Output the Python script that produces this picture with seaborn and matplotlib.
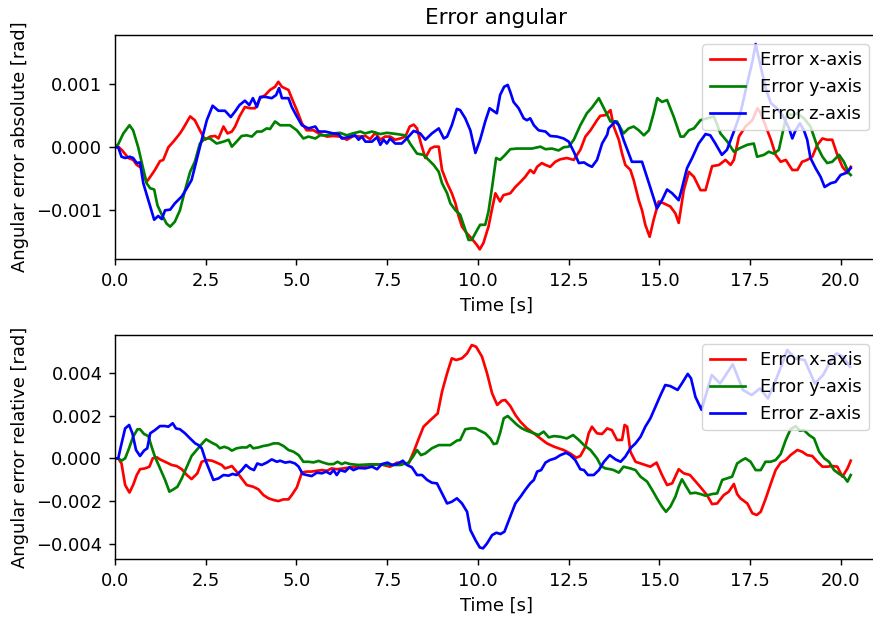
import numpy as np
import pandas as pd
import matplotlib
matplotlib.use("Agg")
import matplotlib.pyplot as plt
import seaborn as sns

# ---------------------------------------------------------------------------
# Angular error data, values in mrad (converted to rad when plotted)
# ---------------------------------------------------------------------------
labels = ["Error x-axis", "Error y-axis", "Error z-axis"]
colors = ["red", "green", "blue"]

# absolute error
t_abs_x = [0.00, 0.09, 0.20, 0.37, 0.50, 0.60, 0.74, 0.87, 0.97, 1.10, 1.24, 1.33, 1.47, 1.61, 1.79,
           1.88, 2.07, 2.20, 2.34, 2.48, 2.62, 2.76, 2.85, 2.99, 3.10, 3.22, 3.31, 3.43, 3.58, 3.72,
           3.86, 4.00, 4.14, 4.27, 4.41, 4.50, 4.60, 4.78, 4.87, 5.01, 5.15, 5.28, 5.47, 5.61, 5.84,
           6.02, 6.20, 6.39, 6.57, 6.76, 6.90, 7.03, 7.17, 7.31, 7.44, 7.58, 7.72, 7.86, 8.00, 8.12,
           8.23, 8.32, 8.43, 8.55, 8.69, 8.80, 8.92, 9.01, 9.15, 9.28, 9.38, 9.47, 9.56, 9.70, 9.83,
           9.97, 10.05, 10.15, 10.29, 10.38, 10.48, 10.61, 10.70, 10.89, 11.03, 11.17, 11.30, 11.44,
           11.54, 11.63, 11.76, 11.86, 11.99, 12.13, 12.27, 12.45, 12.64, 12.82, 12.96, 13.10, 13.28,
           13.37, 13.51, 13.65, 13.74, 13.88, 13.97, 14.06, 14.20, 14.29, 14.43, 14.52, 14.61, 14.73,
           14.84, 14.98, 15.12, 15.30, 15.44, 15.53, 15.67, 15.81, 15.95, 16.13, 16.27, 16.36, 16.45,
           16.64, 16.82, 16.96, 17.05, 17.19, 17.37, 17.56, 17.70, 17.79, 17.93, 18.07, 18.20, 18.34,
           18.48, 18.66, 18.80, 18.93, 19.07, 19.21, 19.35, 19.49, 19.62, 19.76, 19.90, 20.04, 20.18,
           20.27]
abs_x = [0.00, 0.01, -0.05, -0.17, -0.20, -0.28, -0.33, -0.55, -0.47, -0.36, -0.22, -0.20, 0.00, 0.09,
         0.22, 0.30, 0.49, 0.43, 0.27, 0.12, 0.17, 0.18, 0.14, 0.33, 0.22, 0.25, 0.33, 0.49, 0.64, 0.62,
         0.62, 0.78, 0.83, 0.91, 0.96, 1.04, 0.96, 0.91, 0.78, 0.59, 0.38, 0.27, 0.27, 0.22, 0.17, 0.18,
         0.17, 0.12, 0.18, 0.17, 0.18, 0.13, 0.23, 0.12, 0.17, 0.17, 0.12, 0.14, 0.17, 0.33, 0.36, 0.30,
         0.06, -0.17, -0.02, 0.01, 0.01, -0.36, -0.57, -0.73, -0.89, -1.10, -1.26, -1.37, -1.45, -1.55,
         -1.62, -1.52, -1.26, -1.00, -0.73, -0.86, -0.76, -0.73, -0.63, -0.55, -0.47, -0.36, -0.41, -0.31,
         -0.25, -0.28, -0.31, -0.23, -0.19, -0.17, -0.20, -0.04, 0.17, 0.27, 0.43, 0.50, 0.51, 0.59, 0.33,
         0.12, -0.10, -0.28, -0.36, -0.52, -0.84, -1.00, -1.23, -1.42, -1.15, -0.86, -0.89, -0.94, -1.05,
         -1.20, -0.68, -0.39, -0.47, -0.68, -0.68, -0.49, -0.30, -0.28, -0.20, -0.28, -0.20, 0.17, 0.33,
         0.43, 0.62, 0.54, 0.33, 0.12, -0.12, -0.23, -0.20, -0.36, -0.36, -0.23, -0.20, -0.15, 0.04, 0.14,
         0.12, 0.12, -0.12, -0.31, -0.41, -0.31]

t_abs_y = [0.00, 0.09, 0.23, 0.40, 0.50, 0.64, 0.74, 0.87, 0.97, 1.08, 1.17, 1.29, 1.42, 1.52, 1.65,
           1.79, 1.93, 2.07, 2.20, 2.34, 2.48, 2.62, 2.80, 2.99, 3.13, 3.22, 3.35, 3.49, 3.63, 3.77,
           3.91, 4.04, 4.18, 4.27, 4.41, 4.55, 4.69, 4.82, 5.01, 5.19, 5.33, 5.52, 5.65, 5.84, 6.02,
           6.20, 6.39, 6.55, 6.76, 6.89, 7.08, 7.31, 7.49, 7.77, 8.00, 8.13, 8.32, 8.50, 8.64, 8.78,
           8.92, 9.01, 9.15, 9.24, 9.38, 9.51, 9.65, 9.74, 9.83, 9.95, 10.06, 10.20, 10.29, 10.39,
           10.50, 10.61, 10.75, 10.89, 11.07, 11.26, 11.49, 11.72, 11.86, 12.04, 12.22, 12.36, 12.50,
           12.64, 12.82, 13.00, 13.14, 13.33, 13.47, 13.65, 13.83, 14.01, 14.15, 14.29, 14.43, 14.57,
           14.71, 14.84, 14.94, 15.07, 15.21, 15.39, 15.58, 15.67, 15.81, 15.95, 16.13, 16.32, 16.50,
           16.68, 16.87, 17.05, 17.19, 17.42, 17.60, 17.69, 17.88, 18.01, 18.15, 18.29, 18.43, 18.52,
           18.66, 18.79, 18.98, 19.16, 19.35, 19.49, 19.62, 19.76, 19.95, 20.08, 20.22, 20.27]
abs_y = [0.00, 0.05, 0.22, 0.35, 0.27, 0.00, -0.25, -0.57, -0.65, -0.67, -0.92, -1.07, -1.21, -1.26,
         -1.18, -1.00, -0.68, -0.39, -0.23, 0.06, 0.14, 0.14, 0.06, 0.09, 0.12, 0.01, 0.09, 0.18, 0.19,
         0.17, 0.25, 0.25, 0.30, 0.29, 0.41, 0.35, 0.35, 0.35, 0.27, 0.14, 0.17, 0.14, 0.19, 0.19, 0.22,
         0.23, 0.19, 0.22, 0.25, 0.22, 0.25, 0.21, 0.23, 0.21, 0.19, 0.06, -0.10, -0.12, -0.20, -0.28,
         -0.39, -0.57, -0.73, -0.89, -1.00, -1.07, -1.31, -1.47, -1.47, -1.34, -1.23, -1.23, -1.02, -0.63,
         -0.17, -0.20, -0.12, -0.03, -0.02, -0.02, -0.02, 0.01, -0.03, -0.02, -0.05, 0.00, 0.01, 0.12,
         0.35, 0.54, 0.63, 0.78, 0.62, 0.41, 0.41, 0.22, 0.30, 0.33, 0.27, 0.19, 0.27, 0.54, 0.78, 0.72,
         0.75, 0.49, 0.17, 0.17, 0.27, 0.30, 0.43, 0.46, 0.49, 0.22, 0.09, -0.07, -0.02, 0.04, 0.06, -0.15,
         -0.12, -0.07, -0.10, -0.04, 0.33, 0.54, 0.51, 0.54, 0.46, 0.33, 0.01, -0.15, -0.25, -0.23, -0.12,
         -0.23, -0.41, -0.44]

t_abs_z = [0.00, 0.09, 0.18, 0.28, 0.41, 0.50, 0.60, 0.69, 0.78, 0.92, 1.08, 1.19, 1.29, 1.38, 1.52,
           1.65, 1.84, 1.98, 2.11, 2.25, 2.39, 2.53, 2.69, 2.85, 3.03, 3.19, 3.31, 3.43, 3.58, 3.70,
           3.80, 3.91, 4.00, 4.14, 4.32, 4.44, 4.52, 4.60, 4.78, 4.87, 5.01, 5.15, 5.33, 5.52, 5.61,
           5.79, 6.02, 6.16, 6.25, 6.43, 6.62, 6.71, 6.80, 6.90, 7.08, 7.22, 7.31, 7.40, 7.49, 7.58,
           7.72, 7.90, 8.04, 8.23, 8.41, 8.55, 8.73, 8.92, 9.06, 9.15, 9.28, 9.42, 9.51, 9.65, 9.79,
           9.93, 10.06, 10.20, 10.32, 10.52, 10.61, 10.72, 10.82, 10.89, 10.98, 11.12, 11.26, 11.35,
           11.44, 11.54, 11.67, 11.86, 11.99, 12.18, 12.36, 12.50, 12.64, 12.78, 12.92, 13.03, 13.14,
           13.28, 13.42, 13.56, 13.60, 13.78, 13.88, 14.01, 14.24, 14.38, 14.52, 14.71, 14.93, 15.07,
           15.21, 15.35, 15.53, 15.62, 15.76, 15.90, 16.08, 16.27, 16.40, 16.54, 16.72, 16.86, 17.05,
           17.23, 17.42, 17.56, 17.65, 17.79, 17.93, 18.07, 18.20, 18.39, 18.57, 18.66, 18.75, 18.87,
           18.98, 19.07, 19.16, 19.30, 19.44, 19.55, 19.72, 19.85, 19.99, 20.13, 20.27]
abs_z = [0.00, 0.00, -0.15, -0.17, -0.15, -0.17, -0.25, -0.24, -0.57, -0.84, -1.15, -1.09, -1.14, -1.00,
         -0.99, -0.89, -0.78, -0.65, -0.52, -0.20, 0.12, 0.43, 0.66, 0.58, 0.58, 0.48, 0.57, 0.67, 0.74,
         0.67, 0.78, 0.64, 0.80, 0.80, 0.78, 0.83, 0.94, 0.78, 0.78, 0.64, 0.49, 0.35, 0.30, 0.33, 0.25,
         0.25, 0.22, 0.21, 0.14, 0.16, 0.19, 0.12, 0.17, 0.09, 0.09, 0.16, 0.04, 0.12, 0.06, 0.14, 0.06,
         0.06, 0.14, 0.26, 0.22, 0.12, 0.22, 0.30, 0.14, 0.17, 0.35, 0.61, 0.59, 0.46, 0.27, -0.09, 0.12,
         0.41, 0.62, 0.54, 0.83, 0.96, 0.99, 0.88, 0.72, 0.62, 0.46, 0.43, 0.46, 0.35, 0.27, 0.25, 0.18,
         0.17, 0.14, 0.09, -0.07, -0.25, -0.24, -0.28, -0.31, -0.20, 0.06, 0.20, 0.30, 0.41, 0.35, 0.12,
         -0.23, -0.23, -0.23, -0.57, -0.97, -0.84, -0.67, -0.73, -0.84, -0.65, -0.33, -0.17, 0.06, 0.21,
         0.19, 0.06, -0.12, -0.04, 0.25, 0.54, 1.02, 1.36, 1.64, 1.28, 0.93, 0.70, 0.64, 0.51, 0.30, 0.14,
         0.27, 0.38, 0.27, 0.12, -0.17, -0.33, -0.47, -0.63, -0.57, -0.55, -0.44, -0.41, -0.33]

# relative error
t_rel_x = [0.00, 0.09, 0.18, 0.28, 0.40, 0.50, 0.60, 0.69, 0.83, 0.95, 1.04, 1.15, 1.24, 1.38, 1.56,
           1.70, 1.84, 1.98, 2.11, 2.27, 2.39, 2.53, 2.67, 2.80, 2.94, 3.03, 3.13, 3.22, 3.35, 3.49,
           3.63, 3.81, 3.95, 4.09, 4.23, 4.37, 4.50, 4.64, 4.78, 4.87, 5.01, 5.15, 5.28, 5.42, 5.56,
           5.70, 5.84, 5.97, 6.11, 6.30, 6.48, 6.71, 7.03, 7.31, 7.58, 7.77, 7.95, 8.09, 8.23, 8.37,
           8.50, 8.69, 8.89, 9.01, 9.15, 9.28, 9.40, 9.56, 9.70, 9.83, 9.95, 10.11, 10.25, 10.39, 10.53,
           10.66, 10.75, 10.89, 11.03, 11.17, 11.35, 11.54, 11.72, 11.90, 12.09, 12.22, 12.36, 12.54,
           12.71, 12.82, 12.96, 13.05, 13.14, 13.28, 13.42, 13.56, 13.69, 13.83, 13.97, 14.04, 14.11,
           14.20, 14.34, 14.48, 14.61, 14.75, 14.92, 15.07, 15.21, 15.35, 15.53, 15.67, 15.84, 16.00,
           16.18, 16.31, 16.45, 16.59, 16.77, 16.91, 17.05, 17.14, 17.23, 17.42, 17.56, 17.68, 17.79,
           17.93, 18.07, 18.20, 18.34, 18.48, 18.61, 18.80, 18.93, 19.07, 19.21, 19.35, 19.49, 19.62,
           19.76, 19.90, 20.04, 20.18, 20.27]
rel_x = [0.00, 0.00, -0.24, -1.25, -1.60, -1.25, -0.78, -0.51, -0.47, -0.39, 0.00, 0.05, -0.05, -0.16,
         -0.31, -0.36, -0.51, -0.78, -0.97, -0.70, -0.16, -0.08, -0.11, -0.20, -0.31, -0.47, -0.42, -0.36,
         -0.62, -0.94, -1.25, -1.33, -1.45, -1.72, -1.87, -1.95, -2.00, -1.92, -1.92, -1.72, -1.36, -0.66,
         -0.62, -0.62, -0.58, -0.55, -0.58, -0.47, -0.51, -0.47, -0.42, -0.39, -0.31, -0.28, -0.39, -0.20,
         -0.24, -0.24, 0.31, 0.93, 1.48, 1.79, 2.10, 3.12, 3.98, 4.68, 4.60, 4.68, 4.91, 5.30, 5.22, 4.76,
         3.98, 3.04, 2.50, 2.70, 2.73, 2.45, 2.03, 1.71, 1.40, 1.17, 0.93, 0.70, 0.55, 0.47, 0.39, 0.23,
         0.03, 0.11, 0.54, 1.17, 1.48, 1.17, 1.14, 1.40, 1.32, 0.86, 0.86, 1.56, 1.48, 0.31, -0.16, -0.24,
         -0.31, -0.39, -0.20, -0.78, -1.25, -1.17, -0.51, -0.70, -0.78, -1.09, -1.45, -1.72, -2.14, -2.11,
         -1.72, -1.56, -1.20, -1.67, -1.87, -2.11, -2.57, -2.65, -2.50, -1.87, -1.17, -0.55, -0.20, -0.08,
         0.15, 0.39, 0.31, 0.15, 0.11, -0.16, -0.39, -0.39, -0.36, -0.39, -0.86, -0.47, -0.11]

t_rel_y = [0.00, 0.09, 0.18, 0.28, 0.37, 0.50, 0.62, 0.69, 0.80, 0.92, 1.01, 1.10, 1.22, 1.38, 1.50,
           1.61, 1.72, 1.84, 1.98, 2.11, 2.25, 2.39, 2.51, 2.67, 2.80, 2.89, 3.01, 3.13, 3.22, 3.35,
           3.49, 3.63, 3.72, 3.81, 3.95, 4.09, 4.23, 4.37, 4.50, 4.64, 4.78, 4.92, 5.06, 5.19, 5.33,
           5.47, 5.61, 5.74, 5.88, 6.02, 6.13, 6.25, 6.34, 6.48, 6.71, 7.03, 7.31, 7.58, 7.86, 8.09,
           8.21, 8.32, 8.43, 8.55, 8.73, 8.92, 9.10, 9.24, 9.42, 9.51, 9.65, 9.79, 9.93, 10.06, 10.20,
           10.34, 10.43, 10.52, 10.62, 10.71, 10.82, 10.94, 11.08, 11.21, 11.35, 11.54, 11.67, 11.81,
           11.95, 12.09, 12.27, 12.45, 12.62, 12.78, 12.92, 13.10, 13.28, 13.39, 13.51, 13.65, 13.74,
           13.88, 14.01, 14.20, 14.34, 14.48, 14.66, 14.80, 14.93, 15.07, 15.18, 15.30, 15.44, 15.53,
           15.62, 15.74, 15.85, 15.99, 16.13, 16.27, 16.45, 16.59, 16.73, 16.86, 17.00, 17.14, 17.28,
           17.37, 17.51, 17.65, 17.79, 17.92, 18.06, 18.20, 18.34, 18.48, 18.61, 18.75, 18.87, 18.98,
           19.12, 19.26, 19.40, 19.54, 19.67, 19.81, 19.95, 20.08, 20.18, 20.27]
rel_y = [0.00, 0.00, -0.11, 0.00, 0.39, 1.01, 1.36, 1.36, 1.14, 1.04, 0.54, 0.08, -0.39, -1.01, -1.56,
         -1.45, -1.33, -0.94, -0.39, 0.11, 0.39, 0.67, 0.89, 0.73, 0.62, 0.47, 0.54, 0.47, 0.36, 0.47,
         0.51, 0.51, 0.62, 0.47, 0.51, 0.58, 0.62, 0.70, 0.70, 0.58, 0.39, 0.31, 0.15, -0.16, -0.16,
         -0.19, -0.12, -0.20, -0.27, -0.27, -0.16, -0.27, -0.20, -0.27, -0.31, -0.28, -0.28, -0.31,
         -0.31, -0.20, 0.08, 0.39, 0.15, 0.23, 0.47, 0.62, 0.62, 0.62, 0.83, 0.86, 1.36, 1.40, 1.40,
         1.29, 1.17, 0.93, 0.67, 0.70, 1.25, 1.87, 1.98, 1.79, 1.56, 1.40, 1.29, 1.17, 1.09, 1.25, 0.98,
         1.04, 1.01, 0.93, 1.09, 0.86, 0.62, 0.39, 0.00, -0.36, -0.47, -0.51, -0.55, -0.67, -0.39, -0.47,
         -0.55, -0.86, -1.09, -1.48, -1.87, -2.26, -2.50, -2.26, -1.79, -1.33, -0.98, -1.33, -1.64, -1.61,
         -1.67, -1.75, -1.67, -1.64, -1.01, -0.94, -0.86, -0.24, -0.08, 0.00, -0.16, -0.55, -0.55, -0.16,
         -0.16, -0.08, 0.20, 0.86, 1.36, 1.51, 1.29, 1.32, 1.09, 0.93, 0.31, 0.00, -0.16, -0.55, -0.73,
         -0.86, -1.09, -0.78]

t_rel_z = [0.00, 0.09, 0.16, 0.28, 0.39, 0.48, 0.58, 0.69, 0.80, 0.89, 0.97, 1.10, 1.24, 1.38, 1.47,
           1.59, 1.68, 1.79, 1.93, 2.07, 2.21, 2.30, 2.39, 2.51, 2.62, 2.71, 2.85, 2.99, 3.13, 3.24,
           3.35, 3.49, 3.61, 3.72, 3.83, 3.92, 4.04, 4.18, 4.32, 4.46, 4.55, 4.69, 4.82, 4.96, 5.06,
           5.17, 5.28, 5.42, 5.56, 5.70, 5.82, 5.93, 6.02, 6.11, 6.20, 6.34, 6.46, 6.57, 6.71, 6.89,
           7.08, 7.22, 7.35, 7.51, 7.63, 7.77, 7.93, 8.04, 8.18, 8.32, 8.46, 8.60, 8.73, 8.87, 9.01,
           9.15, 9.28, 9.42, 9.56, 9.70, 9.79, 9.93, 10.05, 10.14, 10.25, 10.39, 10.51, 10.62, 10.73,
           10.87, 11.03, 11.17, 11.30, 11.44, 11.54, 11.63, 11.74, 11.86, 11.98, 12.13, 12.27, 12.43,
           12.54, 12.68, 12.82, 12.92, 13.03, 13.19, 13.33, 13.47, 13.63, 13.79, 13.93, 14.06, 14.20,
           14.34, 14.48, 14.61, 14.75, 14.89, 15.03, 15.16, 15.30, 15.50, 15.62, 15.78, 15.87, 15.99,
           16.16, 16.44, 16.67, 17.02, 17.30, 17.54, 17.77, 17.99, 18.23, 18.52, 18.73, 19.00, 19.28,
           19.51, 19.70, 19.88, 20.06, 20.25]
rel_z = [0.00, 0.00, 0.54, 1.40, 1.56, 1.17, 0.39, 0.11, 0.36, 0.47, 1.17, 1.32, 1.51, 1.51, 1.48, 1.64,
         1.40, 1.36, 1.17, 0.93, 0.70, 0.62, 0.47, -0.16, -0.62, -1.01, -0.94, -0.78, -0.81, -0.73, -0.78,
         -0.55, -0.31, -0.47, -0.55, -0.24, -0.31, -0.20, -0.05, -0.16, -0.11, -0.20, -0.16, -0.24, -0.39,
         -0.73, -0.78, -0.83, -0.67, -0.70, -0.62, -0.73, -0.55, -0.78, -0.55, -0.62, -0.42, -0.55, -0.45,
         -0.47, -0.39, -0.51, -0.27, -0.20, -0.31, -0.27, -0.11, -0.31, -0.42, -0.78, -0.78, -1.01, -1.14,
         -1.17, -1.64, -2.11, -2.03, -1.87, -2.11, -2.50, -3.35, -3.82, -4.17, -4.21, -3.98, -3.59, -3.48,
         -3.54, -3.43, -2.81, -2.11, -1.80, -1.48, -1.17, -1.01, -0.62, -0.55, -0.20, -0.08, 0.00, 0.15,
         0.26, 0.15, -0.08, -0.51, -0.55, -0.78, -0.78, -0.55, -0.16, 0.15, -0.05, -0.16, 0.08, 0.47, 0.70,
         1.01, 1.48, 1.87, 2.42, 2.96, 3.43, 3.38, 3.20, 3.51, 3.95, 3.74, 2.88, 2.27, 3.90, 3.50, 4.40,
         3.20, 2.96, 3.27, 2.80, 3.76, 5.07, 4.68, 4.60, 3.50, 3.90, 4.52, 4.91, 4.75, 4.28]


def long_frame(times, values):
    """Stack the three axis series into one long table for seaborn."""
    parts = []
    for lab, t, v in zip(labels, times, values):
        parts.append(pd.DataFrame({"time": np.asarray(t, float),
                                   "error": np.asarray(v, float) * 1e-3,
                                   "axis": lab}))
    return pd.concat(parts, ignore_index=True)


df_abs = long_frame([t_abs_x, t_abs_y, t_abs_z], [abs_x, abs_y, abs_z])
df_rel = long_frame([t_rel_x, t_rel_y, t_rel_z], [rel_x, rel_y, rel_z])

# ---------------------------------------------------------------------------
# Figure
# ---------------------------------------------------------------------------
k = 1.29  # scale of the classic matplotlib defaults
plt.rcParams.update({
    "font.family": ["DejaVu Sans"],
    "font.size": 10 * k,
    "axes.titlesize": 12 * k,
    "axes.labelsize": 10 * k,
    "xtick.labelsize": 10 * k,
    "ytick.labelsize": 10 * k,
    "legend.fontsize": 10 * k,
    "axes.linewidth": 0.8 * k,
    "xtick.major.width": 0.8 * k,
    "ytick.major.width": 0.8 * k,
    "xtick.major.size": 3.5 * k,
    "ytick.major.size": 3.5 * k,
    "xtick.major.pad": 3.5 * k,
    "ytick.major.pad": 3.5 * k,
    "axes.labelpad": 4.0 * k,
    "axes.titlepad": 6.0 * k,
})

fig = plt.figure(figsize=(8.73, 6.19), dpi=100)
ax_abs = fig.add_axes([0.1317, 0.5816, 0.8740, 0.3619])
ax_rel = fig.add_axes([0.1317, 0.0969, 0.8740, 0.3619])

palette = dict(zip(labels, colors))

for ax, df, ylab, ylim in [
    (ax_abs, df_abs, "Angular error absolute [rad]", (-0.001773, 0.001783)),
    (ax_rel, df_rel, "Angular error relative [rad]", (-0.00471, 0.00577)),
]:
    sns.lineplot(data=df, x="time", y="error", hue="axis", hue_order=labels,
                 palette=palette, estimator=None, sort=False, linewidth=1.5 * k,
                 legend=False, ax=ax)
    ax.set_xlim(0, 21.02)
    ax.set_ylim(*ylim)
    ax.set_xlabel("Time [s]")
    ax.set_ylabel(ylab)
    ax.legend(ax.get_lines()[:3], labels, loc="upper right")

ax_abs.set_title("Error angular")

fig.savefig("out.png", dpi=100)
